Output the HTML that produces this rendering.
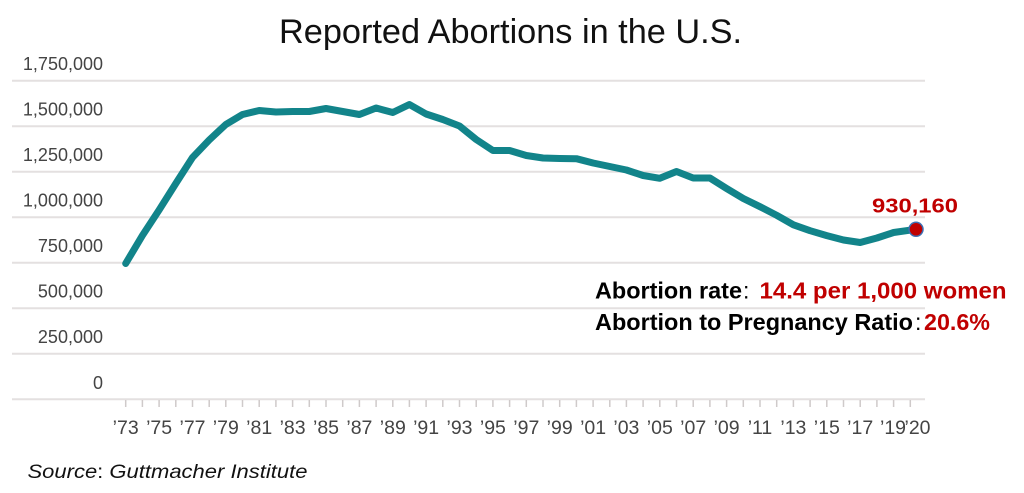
<!DOCTYPE html>
<html>
<head>
<meta charset="utf-8">
<style>
html,body{margin:0;padding:0;background:#fff;}
svg{display:block;}
</style>
</head>
<body>
<svg width="1024" height="493" viewBox="0 0 1024 493" xmlns="http://www.w3.org/2000/svg">
<rect width="1024" height="493" fill="#fff"/>
<!-- title -->
<text x="279" y="43" font-family="Liberation Sans, sans-serif" font-size="34" fill="#111" textLength="463" lengthAdjust="spacingAndGlyphs">Reported Abortions in the U.S.</text>

<!-- gridlines -->
<g stroke="#e4e0e0" stroke-width="2">
<line x1="12" y1="80.7" x2="925" y2="80.7"/>
<line x1="12" y1="126.2" x2="925" y2="126.2"/>
<line x1="12" y1="171.7" x2="925" y2="171.7"/>
<line x1="12" y1="217.2" x2="925" y2="217.2"/>
<line x1="12" y1="262.7" x2="925" y2="262.7"/>
<line x1="12" y1="308.2" x2="925" y2="308.2"/>
<line x1="12" y1="353.7" x2="925" y2="353.7"/>
<line x1="12" y1="399.3" x2="925" y2="399.3"/>
</g>

<!-- y labels -->
<g font-family="Liberation Sans, sans-serif" font-size="18" fill="#444" text-anchor="end">
<text x="103" y="70.2">1,750,000</text>
<text x="103" y="115.7">1,500,000</text>
<text x="103" y="161.2">1,250,000</text>
<text x="103" y="206.7">1,000,000</text>
<text x="103" y="252.2">750,000</text>
<text x="103" y="297.7">500,000</text>
<text x="103" y="343.2">250,000</text>
<text x="103" y="388.8">0</text>
</g>

<!-- ticks -->
<g stroke="#cfcaca" stroke-width="1.5">
<line x1="125.7" y1="400" x2="125.7" y2="407"/><line x1="142.4" y1="400" x2="142.4" y2="407"/>
<line x1="159.1" y1="400" x2="159.1" y2="407"/><line x1="175.8" y1="400" x2="175.8" y2="407"/>
<line x1="192.5" y1="400" x2="192.5" y2="407"/><line x1="209.2" y1="400" x2="209.2" y2="407"/>
<line x1="225.8" y1="400" x2="225.8" y2="407"/><line x1="242.5" y1="400" x2="242.5" y2="407"/>
<line x1="259.2" y1="400" x2="259.2" y2="407"/><line x1="275.9" y1="400" x2="275.9" y2="407"/>
<line x1="292.6" y1="400" x2="292.6" y2="407"/><line x1="309.3" y1="400" x2="309.3" y2="407"/>
<line x1="326.0" y1="400" x2="326.0" y2="407"/><line x1="342.7" y1="400" x2="342.7" y2="407"/>
<line x1="359.4" y1="400" x2="359.4" y2="407"/><line x1="376.1" y1="400" x2="376.1" y2="407"/>
<line x1="392.8" y1="400" x2="392.8" y2="407"/><line x1="409.4" y1="400" x2="409.4" y2="407"/>
<line x1="426.1" y1="400" x2="426.1" y2="407"/><line x1="442.8" y1="400" x2="442.8" y2="407"/>
<line x1="459.5" y1="400" x2="459.5" y2="407"/><line x1="476.2" y1="400" x2="476.2" y2="407"/>
<line x1="492.9" y1="400" x2="492.9" y2="407"/><line x1="509.6" y1="400" x2="509.6" y2="407"/>
<line x1="526.3" y1="400" x2="526.3" y2="407"/><line x1="543.0" y1="400" x2="543.0" y2="407"/>
<line x1="559.7" y1="400" x2="559.7" y2="407"/><line x1="576.4" y1="400" x2="576.4" y2="407"/>
<line x1="593.1" y1="400" x2="593.1" y2="407"/><line x1="609.8" y1="400" x2="609.8" y2="407"/>
<line x1="626.4" y1="400" x2="626.4" y2="407"/><line x1="643.1" y1="400" x2="643.1" y2="407"/>
<line x1="659.8" y1="400" x2="659.8" y2="407"/><line x1="676.5" y1="400" x2="676.5" y2="407"/>
<line x1="693.2" y1="400" x2="693.2" y2="407"/><line x1="709.9" y1="400" x2="709.9" y2="407"/>
<line x1="726.6" y1="400" x2="726.6" y2="407"/><line x1="743.3" y1="400" x2="743.3" y2="407"/>
<line x1="760.0" y1="400" x2="760.0" y2="407"/><line x1="776.7" y1="400" x2="776.7" y2="407"/>
<line x1="793.4" y1="400" x2="793.4" y2="407"/><line x1="810.1" y1="400" x2="810.1" y2="407"/>
<line x1="826.8" y1="400" x2="826.8" y2="407"/><line x1="843.5" y1="400" x2="843.5" y2="407"/>
<line x1="860.2" y1="400" x2="860.2" y2="407"/><line x1="876.9" y1="400" x2="876.9" y2="407"/>
<line x1="893.6" y1="400" x2="893.6" y2="407"/><line x1="910.3" y1="400" x2="910.3" y2="407"/>
</g>

<!-- x labels -->
<g font-family="Liberation Sans, sans-serif" font-size="19.5" fill="#444" text-anchor="middle">
<text x="125.7" y="434">’73</text>
<text x="159.1" y="434">’75</text>
<text x="192.5" y="434">’77</text>
<text x="225.8" y="434">’79</text>
<text x="259.2" y="434">’81</text>
<text x="292.6" y="434">’83</text>
<text x="326.0" y="434">’85</text>
<text x="359.4" y="434">’87</text>
<text x="392.8" y="434">’89</text>
<text x="426.1" y="434">’91</text>
<text x="459.5" y="434">’93</text>
<text x="492.9" y="434">’95</text>
<text x="526.3" y="434">’97</text>
<text x="559.7" y="434">’99</text>
<text x="593.1" y="434">’01</text>
<text x="626.4" y="434">’03</text>
<text x="659.8" y="434">’05</text>
<text x="693.2" y="434">’07</text>
<text x="726.6" y="434">’09</text>
<text x="760.0" y="434">’11</text>
<text x="793.4" y="434">’13</text>
<text x="826.8" y="434">’15</text>
<text x="860.2" y="434">’17</text>
<text x="893.0" y="434">’19</text>
<text x="917.5" y="434">’20</text>
</g>

<!-- series -->
<polyline fill="none" stroke="#12848a" stroke-width="7" stroke-linejoin="round" stroke-linecap="round"
points="125.7,263.5 142.4,235.5 159.1,210 175.8,183.5 192.5,157.5 209.2,140 225.8,124.5 242.5,114.5 259.2,110.5 275.9,112 292.6,111.5 309.3,111.5 326.0,108.5 342.7,111.5 359.4,114.5 376.1,108 392.8,112.5 409.4,104.5 426.1,114 442.8,119.5 459.5,126 476.2,139.5 492.9,150.5 509.6,150.5 526.3,155.5 543.0,158 559.7,158.5 576.4,158.7 593.1,163 609.8,166.5 626.4,170 643.1,175.5 659.8,178.3 676.5,171.5 693.2,178 709.9,178 726.6,188.5 743.3,198.5 760.0,206.7 776.7,215.3 793.4,224.8 810.1,230.7 826.8,235.6 843.5,240 860.2,242.5 876.9,238 893.6,232.5 916,229.3"/>
<circle cx="916" cy="229.3" r="7" fill="#c00000" stroke="#3d6fb3" stroke-width="1.5"/>

<!-- annotations -->
<g font-family="Liberation Sans, sans-serif" font-weight="bold">
<text x="872" y="212.7" font-size="20" fill="#c00000" textLength="86" lengthAdjust="spacingAndGlyphs">930,160</text>
<text x="595" y="298.5" font-size="23" fill="#000" textLength="147" lengthAdjust="spacingAndGlyphs">Abortion rate</text>
<text x="743" y="298.5" font-size="23" fill="#000" font-weight="normal">:</text>
<text x="759.5" y="298.5" font-size="23" fill="#c00000" textLength="247" lengthAdjust="spacingAndGlyphs">14.4 per 1,000 women</text>
<text x="595" y="330" font-size="23" fill="#000" textLength="318" lengthAdjust="spacingAndGlyphs">Abortion to Pregnancy Ratio</text>
<text x="915" y="330" font-size="23" fill="#000" font-weight="normal">:</text>
<text x="924" y="330" font-size="23" fill="#c00000" textLength="66" lengthAdjust="spacingAndGlyphs">20.6%</text>
</g>

<!-- source -->
<text x="27.5" y="478" font-family="Liberation Sans, sans-serif" font-size="19" fill="#111" textLength="280" lengthAdjust="spacingAndGlyphs"><tspan font-style="italic">Source</tspan>: <tspan font-style="italic">Guttmacher Institute</tspan></text>
</svg>
</body>
</html>
